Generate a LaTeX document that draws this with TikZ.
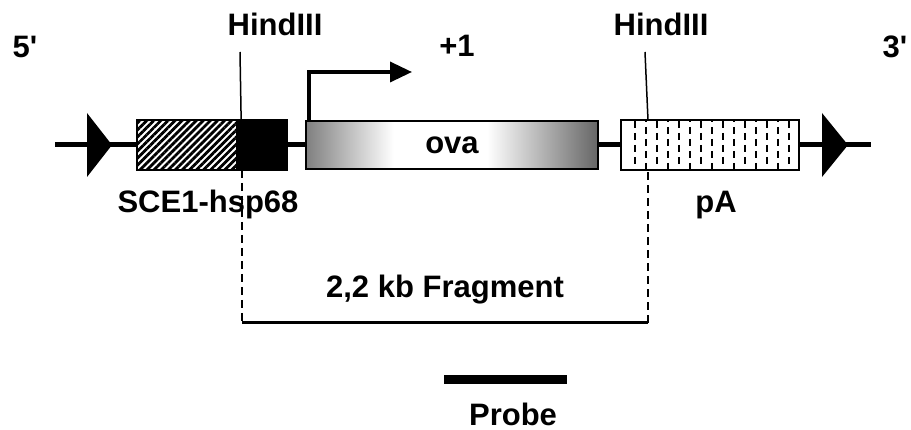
\documentclass[tikz,border=0pt]{standalone}
\usepackage{fontspec}
\setmainfont{Liberation Sans}
\usetikzlibrary{arrows.meta,positioning,patterns.meta}
\pgfdeclarehorizontalshading{ovashade}{100bp}{color(0bp)=(black!50); color(25bp)=(black!50);
  color(40bp)=(white); color(56bp)=(white); color(75bp)=(black!60); color(100bp)=(black!60)}

\begin{document}
\begin{tikzpicture}[x=1pt,y=-1pt,
    box/.style={draw,line width=2pt,minimum height=50pt,inner sep=0pt,outer sep=0pt},
    lbl/.style={font=\fontsize{31}{37}\selectfont\bfseries,anchor=base,inner sep=0pt},
    cut/.style={line width=1.5pt},
    frag/.style={line width=2.5pt,dash pattern=on 8pt off 5pt},
    >={Triangle[length=22pt,width=20pt]}]
  \useasboundingbox (0,0) rectangle (911,430);
  % backbone with loxP sites
  \coordinate (dnaL) at (55,145);
  \coordinate (dnaR) at (871,145);
  \draw[line width=5pt] (dnaL) -- (dnaR);
  \fill (87,113) -- (112,145) -- (87,177) -- cycle;
  \fill (822,113) -- (848,145) -- (822,177) -- cycle;
  % construct elements
  \node[box,minimum width=100pt,preaction={fill=white},
    pattern={Lines[angle=45,distance=5pt,line width=2.8pt]}] (sce) at (187,145) {};
  \node[box,minimum width=50pt,fill=black,right=0pt of sce] (hsp) {};
  \node[box,minimum width=292pt,minimum height=48pt,shading=ovashade,
    right=19pt of hsp,font=\fontsize{31}{37}\selectfont\bfseries] (ova) {ova};
  \node[box,minimum width=178pt,fill=white,right=23pt of ova] (pa) {};
  \begin{scope}
    \clip (pa.south west) rectangle (pa.north east);
    \foreach \i in {0,...,14} {
      \pgfmathsetmacro\ph{mod(\i,2)*6}
      \draw[line width=2.3pt,dash pattern=on 7pt off 5pt,dash phase=\ph pt]
        (635+11*\i,121) -- (635+11*\i,170);
    }
  \end{scope}
  % transcription start
  \coordinate (tss) at ([xshift=3pt]ova.north west);
  \coordinate (tssEnd) at (412,72);
  \draw[line width=3.5pt,->] (tss) |- (tssEnd);
  % labels
  \node[lbl] (five) at (25,58) {5\textquotesingle};
  \node[lbl] (three) at (895,58) {3\textquotesingle};
  \node[lbl] (plus) at (457,57) {+1};
  \node[lbl] (hindL) at (275,36) {HindIII};
  \node[lbl] (hindR) at (661,36) {HindIII};
  \node[lbl] (sceLbl) at (208,213) {SCE1-hsp68};
  \node[lbl] (paLbl) at (716,213) {pA};
  % HindIII sites and fragment
  \coordinate (cutLtop) at (240,52);
  \coordinate (cutLbox) at (242,170);
  \coordinate (cutRtop) at (645,52);
  \coordinate (cutRbox) at (648,120);
  \coordinate (fragL) at (242,323);
  \coordinate (fragR) at (648,323);
  \draw[cut] (cutLtop) -- (cutLbox);
  \draw[cut] (cutRtop) -- (cutRbox);
  \draw[frag] (cutLbox) -- (fragL);
  \draw[frag] (fragR) -- (fragR |- pa.south);
  \draw[line width=3pt] (fragL) -- (fragR);
  \node[lbl] (fragLbl) at (445,298) {2,2 kb Fragment};
  % probe
  \coordinate (prbL) at (444,379.5);
  \coordinate (prbR) at (567,379.5);
  \draw[line width=9pt] (prbL) -- (prbR);
  \node[lbl] (prbLbl) at (513,425) {Probe};
\end{tikzpicture}
\end{document}
